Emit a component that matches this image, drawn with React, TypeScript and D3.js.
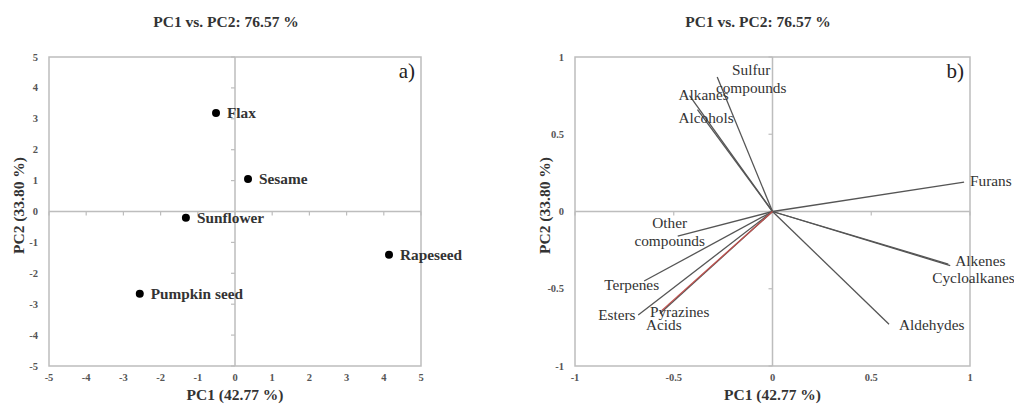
import React from "react";
import * as d3 from "d3";

// panel a) oil scores
const oils = ["Flax", "Sesame", "Sunflower", "Pumpkin seed", "Rapeseed"];
const oilPC1 = [-0.51, 0.35, -1.32, -2.56, 4.14];
const oilPC2 = [3.19, 1.05, -0.2, -2.66, -1.4];

// panel b) loadings
const compounds = [
  "Sulfur compounds", "Alkanes", "Alcohols", "Furans", "Alkenes", "Cycloalkanes",
  "Aldehydes", "Other compounds", "Terpenes", "Esters", "Acids", "Pyrazines",
];
const loadPC1 = [-0.28, -0.42, -0.38, 0.97, 0.9, 0.89, 0.59, -0.48, -0.65, -0.68, -0.57, -0.56];
const loadPC2 = [0.87, 0.75, 0.66, 0.19, -0.35, -0.34, -0.73, -0.16, -0.45, -0.67, -0.66, -0.64];

const ticksA = [-5, -4, -3, -2, -1, 0, 1, 2, 3, 4, 5];
const ticksB = [-1, -0.5, 0, 0.5, 1];

// label placement relative to vector tip (dx, dy, anchor)
const labelPos: Record<string, [number, number, string]> = {
  "Sulfur compounds": [34, -2, "middle"],
  Alkanes: [-11, 4, "start"],
  Alcohols: [-19, 13, "start"],
  Furans: [6, 4, "start"],
  Alkenes: [5, 0, "start"],
  Cycloalkanes: [-16, 19, "start"],
  Aldehydes: [10, 6, "start"],
  "Other compounds": [-8, -8, "middle"],
  Terpenes: [-40, 9, "start"],
  Esters: [-40, 5, "start"],
  Acids: [-14, 17, "start"],
  Pyrazines: [-12, 7, "start"],
};

const FONT = "'Liberation Serif', 'Times New Roman', serif";
const GRID = "#bdbdbd";
const TXT = "#333";

interface FrameProps {
  x: d3.ScaleLinear<number, number>;
  y: d3.ScaleLinear<number, number>;
  ticks: number[];
  fmt: (v: number) => string;
  title: string;
  titleX: number;
  tag: string;
}

const Frame: React.FC<FrameProps> = ({ x, y, ticks, fmt, title, titleX, tag }) => {
  const [x0, x1] = x.range();
  const [y0, y1] = y.range();
  const cx = x(0);
  const cy = y(0);
  return (
    <g fontFamily={FONT}>
      <text x={titleX} y={27} textAnchor="middle" fontWeight="bold" fontSize={15.5} fill={TXT}>
        {title}
      </text>
      <rect x={x0} y={y1} width={x1 - x0} height={y0 - y1} fill="none" stroke={GRID} strokeWidth={1.5} />
      <line x1={x0} x2={x1} y1={cy} y2={cy} stroke={GRID} strokeWidth={1.5} />
      <line x1={cx} x2={cx} y1={y0} y2={y1} stroke={GRID} strokeWidth={1.5} />
      {ticks.map((t) => (
        <g key={"t" + t}>
          <line x1={x(t)} x2={x(t)} y1={cy} y2={cy + 4} stroke={GRID} strokeWidth={1.2} />
          <line x1={cx - 4} x2={cx} y1={y(t)} y2={y(t)} stroke={GRID} strokeWidth={1.2} />
          <text x={x(t)} y={381} textAnchor="middle" fontSize={10.5} fontWeight="bold" fill="#555">
            {fmt(t)}
          </text>
          <text x={x0 - 11} y={y(t) + 3.5} textAnchor="end" fontSize={10.5} fontWeight="bold" fill="#555">
            {fmt(t)}
          </text>
        </g>
      ))}
      <text x={(x0 + x1) / 2} y={400} textAnchor="middle" fontWeight="bold" fontSize={15.5} fill={TXT}>
        PC1 (42.77 %)
      </text>
      <text
        transform={`translate(${x0 - 25},${(y0 + y1) / 2 - 6}) rotate(-90)`}
        textAnchor="middle"
        fontWeight="bold"
        fontSize={15.5}
        fill={TXT}
      >
        PC2 (33.80 %)
      </text>
      <text x={x1 - 6} y={y1 + 21} textAnchor="end" fontSize={21} fill="#222">
        {tag}
      </text>
    </g>
  );
};

const App: React.FC = () => {
  const xa = d3.scaleLinear().domain([-5, 5]).range([49, 421]);
  const ya = d3.scaleLinear().domain([-5, 5]).range([366, 57]);
  const xb = d3.scaleLinear().domain([-1, 1]).range([575, 970]);
  const yb = d3.scaleLinear().domain([-1, 1]).range([366, 57]);

  const fmtB = (v: number) => (v === 0 ? "0" : String(v));

  // draw red pyrazines last
  const order = compounds
    .map((_, i) => i)
    .sort((a, b) => (compounds[a] === "Pyrazines" ? 1 : 0) - (compounds[b] === "Pyrazines" ? 1 : 0));

  return (
    <svg width={1014} height={406} style={{ position: "absolute", left: 0, top: 0, background: "white" }}>
      <Frame x={xa} y={ya} ticks={ticksA} fmt={(v) => String(v)} title="PC1 vs. PC2: 76.57 %" titleX={226} tag="a)" />
      <Frame x={xb} y={yb} ticks={ticksB} fmt={fmtB} title="PC1 vs. PC2: 76.57 %" titleX={758} tag="b)" />

      {oils.map((name, i) => (
        <g key={name} fontFamily={FONT}>
          <circle cx={xa(oilPC1[i])} cy={ya(oilPC2[i])} r={4} fill="#000" />
          <text x={xa(oilPC1[i]) + 11} y={ya(oilPC2[i]) + 5} fontSize={15.3} fontWeight="bold" fill={TXT}>
            {name}
          </text>
        </g>
      ))}

      {order.map((i) => (
        <line
          key={"v" + compounds[i]}
          x1={xb(0)}
          y1={yb(0)}
          x2={xb(loadPC1[i])}
          y2={yb(loadPC2[i])}
          stroke={compounds[i] === "Pyrazines" ? "#c0504d" : "#555"}
          strokeWidth={1.3}
        />
      ))}

      {compounds.map((name, i) => {
        const [dx, dy, anchor] = labelPos[name];
        const tx = xb(loadPC1[i]) + dx;
        const ty = yb(loadPC2[i]) + dy;
        const words = name.split(" ");
        return (
          <text key={"l" + name} x={tx} y={ty} textAnchor={anchor} fontFamily={FONT} fontSize={15.3} fill={TXT}>
            {words.length > 1 ? (
              <>
                <tspan x={tx}>{words[0]}</tspan>
                <tspan x={tx} dy={17.5}>
                  {words[1]}
                </tspan>
              </>
            ) : (
              name
            )}
          </text>
        );
      })}
    </svg>
  );
};

export default App;
